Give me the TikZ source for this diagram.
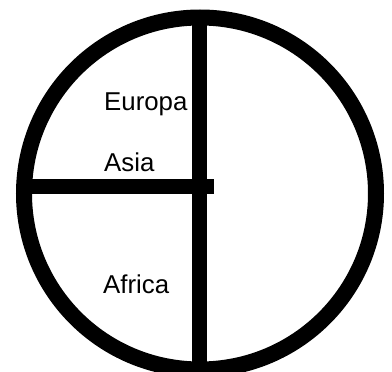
\documentclass[tikz,border=0pt]{standalone}
\usepackage{fontspec}
\setmainfont{Liberation Sans}
\usetikzlibrary{calc}

\begin{document}
\begin{tikzpicture}[
  x=1pt,y=-1pt,
  font=\fontsize{25.8}{30}\selectfont,
  ring/.style={circle,draw=black,line width=16pt,minimum size=352pt,inner sep=0pt},
  bar/.style={line width=15pt,draw=black},
  region/.style={anchor=base west,inner sep=0pt}
]
\useasboundingbox (0,0) rectangle (392,372);
\node[ring] (world) at (200,193.5) {};
\coordinate (top) at (199.5,17);
\coordinate (bottom) at (199.5,370);
\coordinate (westend) at (24,186.5);
\coordinate (eastend) at (214,186.5);
\draw[bar] (top) -- (bottom);
\draw[bar] (westend) -- (eastend);
\node[region] (europa) at (104,110.5) {Europa};
\node[region] (asia) at (104,171.5) {Asia};
\node[region] (africa) at (103,294) {Africa};
\end{tikzpicture}
\end{document}
